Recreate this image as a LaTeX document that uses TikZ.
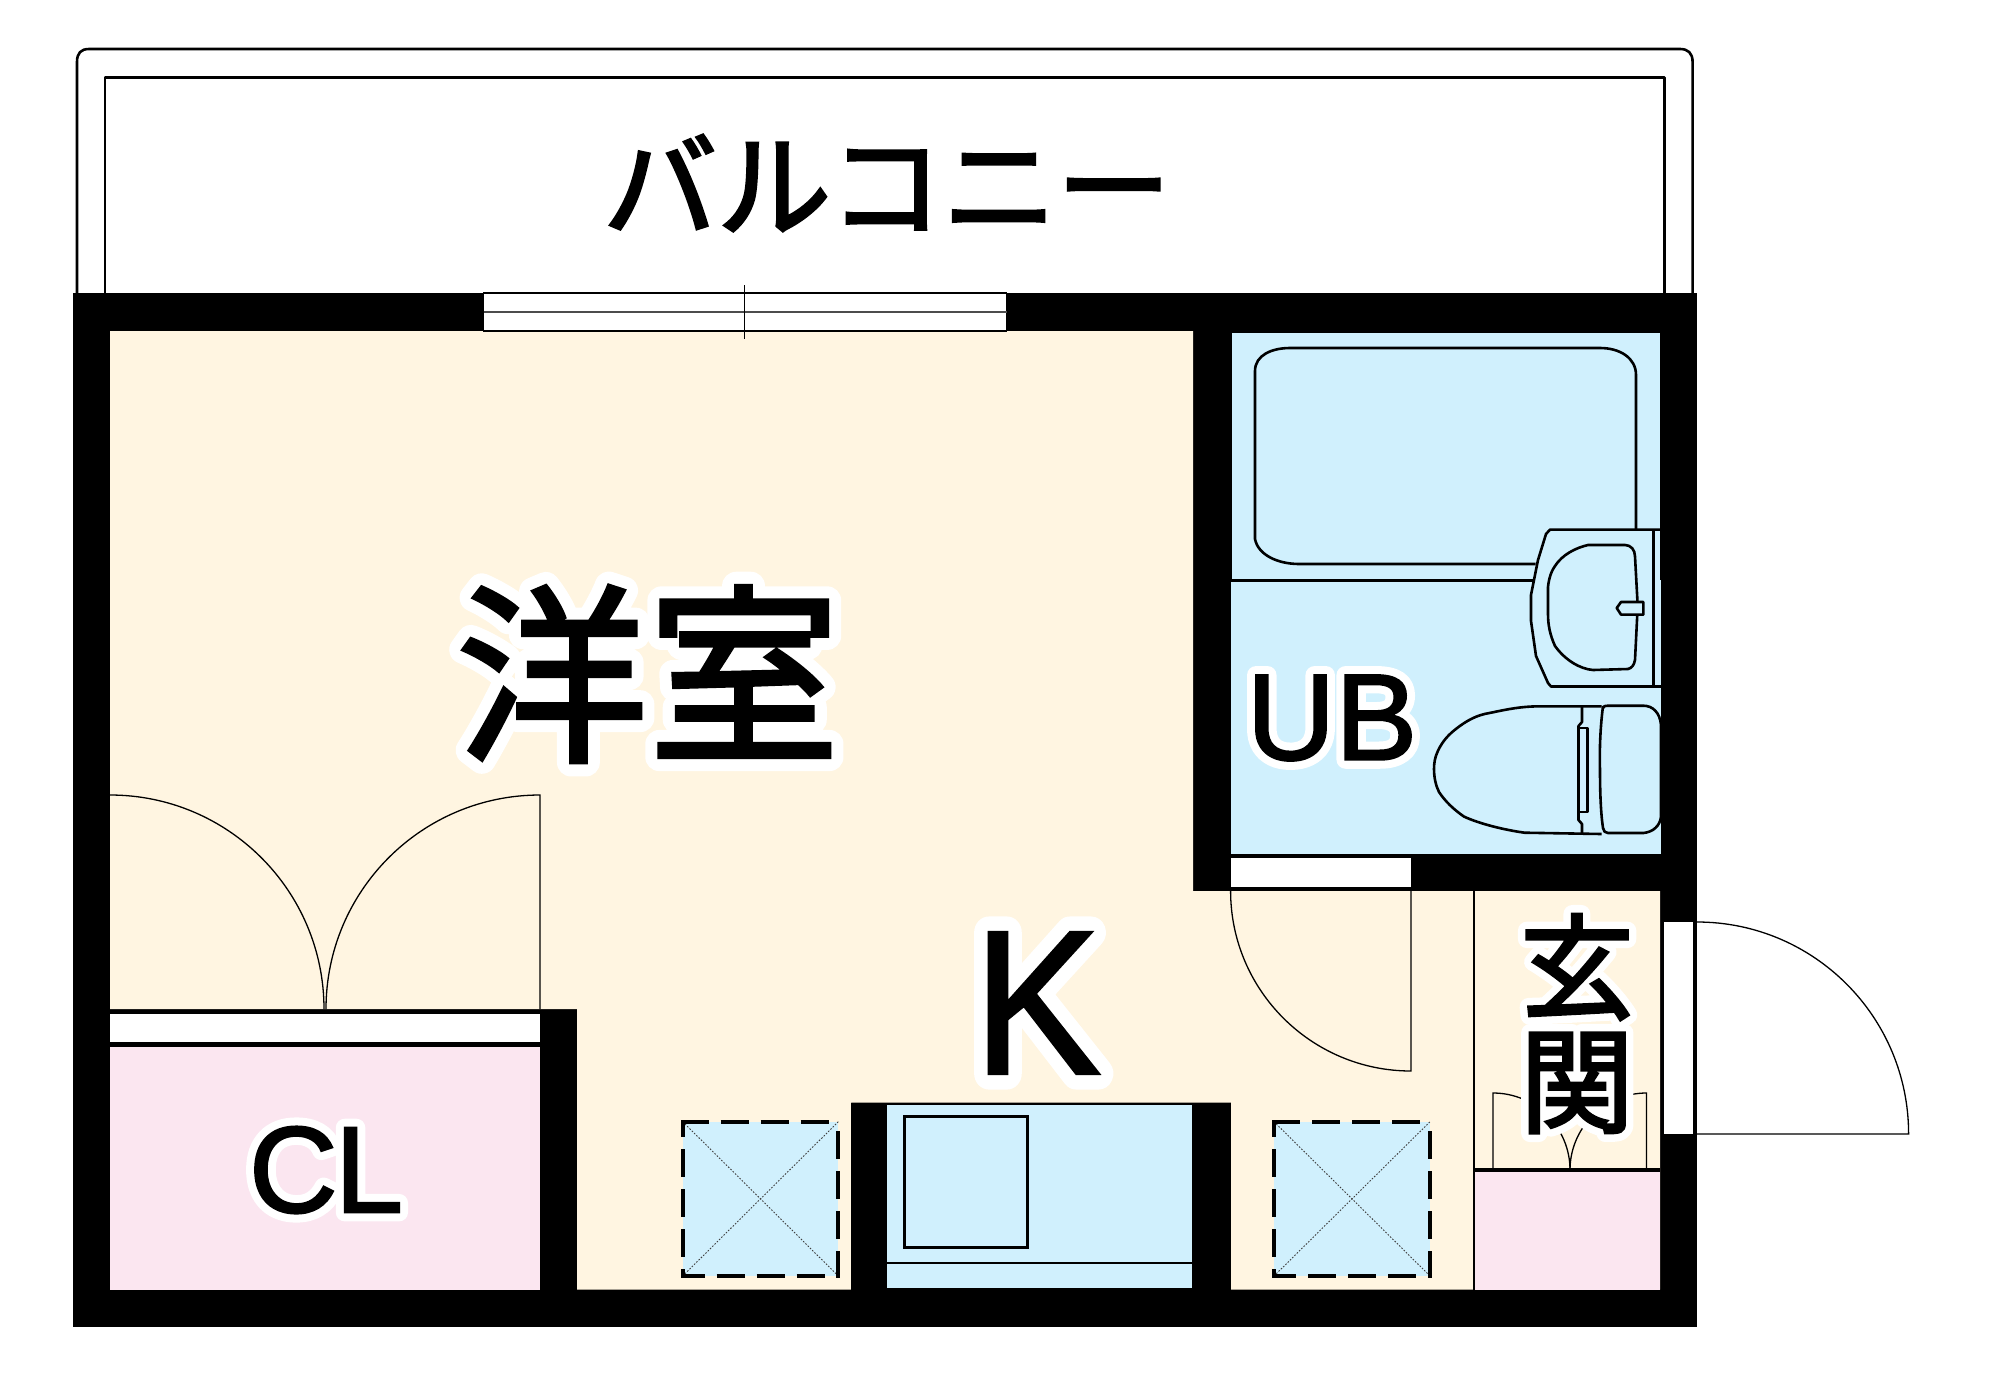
\documentclass[tikz,border=0pt]{standalone}
\usepackage{fontspec}
\setmainfont{Liberation Sans}
\newfontfamily\jpfont{Noto Sans CJK JP}
\definecolor{cream}{HTML}{FFF5E1}
\definecolor{aqua}{HTML}{D0F0FD}
\definecolor{rose}{HTML}{FBE6F0}
% white outline behind the text, then the text with a given extra black stroke
\newcommand{\hl}[3]{\leavevmode\rlap{\special{pdf:code 1 Tr #1 w 1 1 1 RG 1 J 1 j}#3\special{pdf:code 0 Tr}}\special{pdf:code 2 Tr #2 w 0 0 0 RG 0 J 0 j}#3\special{pdf:code 0 Tr}}
\newcommand{\bk}[2]{\special{pdf:code 2 Tr #1 w 0 0 0 RG 0 J 0 j}#2\special{pdf:code 0 Tr}}
\tikzset{
  fixture/.style={draw=black,line width=2.6pt,line join=round},
  hair/.style={draw=black,line width=1.3pt},
  cross/.style={draw=black!75,line width=.9pt,dash pattern=on 1.6pt off 1.6pt},
  dashside/.style={draw=black,line width=3.8pt},
  label/.style={inner sep=0pt,outer sep=0pt,transform shape},
}
\begin{document}
\begin{tikzpicture}[x=1pt,y=-1pt]
\useasboundingbox (0,0) rectangle (2000,1390);
\fill[white] (0,0) rectangle (2000,1390);
% balcony
\draw[fixture] (77,293) -- (77,62) .. controls (77,53) and (81,49) .. (89,49) -- (1680,49) .. controls (1688,49) and (1692.6,53) .. (1692.6,62) -- (1692.6,293);
\draw[fixture] (105,293) -- (105,77.5) -- (1664.5,77.5) -- (1664.5,293);
% walls
\fill[black] (72.5,293) rectangle (1697,1327);
% floors
\fill[cream] (110,331) -- (1193,331) -- (1193,891) -- (1660,891) -- (1660,1289.5) -- (1231,1289.5) -- (1231,1102.5) -- (851,1102.5) -- (851,1289.5) -- (577,1289.5) -- (577,1009) -- (110,1009) -- cycle;
\fill[rose] (110,1047) rectangle (540,1289.5);
\fill[rose] (1475,1170) rectangle (1660,1289.5);
\fill[aqua] (1232,332.5) rectangle (1659.5,580);
\fill[aqua] (1230.5,580) rectangle (1661,853.7);
\fill[black] (851,1102.5) rectangle (1231,1105);
\fill[black] (851,1102.5) rectangle (887,1289.5);
\fill[black] (1192,1102.5) rectangle (1231,1289.5);
\fill[aqua] (887,1105) rectangle (1192,1288);
% openings
\draw[fill=white,draw=black,line width=1.5pt] (483.7,293) rectangle (1006.6,331);
\draw[draw=black!70,line width=1.3pt] (483.7,312) -- (1006.6,312);
\draw[hair] (744.5,285) -- (744.5,339);
\fill[white] (110,1013.6) rectangle (540,1042);
\fill[white] (1230.6,858) rectangle (1411,886.7);
\fill[white] (1664,922) rectangle (1693,1134);
% doors
\draw[hair] (110,795) .. controls (228.2,795) and (324,890.8) .. (324,1009);
\draw[hair] (540,1009) -- (540,795) .. controls (421.8,795) and (326,890.8) .. (326,1009);
\draw[hair] (1230.6,891) .. controls (1230.6,990.4) and (1311.6,1071) .. (1411,1071) -- (1411,891);
\draw[hair] (1697,922) .. controls (1814,922) and (1908.6,1017) .. (1908.6,1134) -- (1697,1134);
\draw[hair] (1493,1170) -- (1493,1093) .. controls (1535.5,1093) and (1570,1127.5) .. (1570,1170);
\draw[hair] (1646.4,1170) -- (1646.4,1093) .. controls (1604.4,1093) and (1570,1128) .. (1570,1170);
% entry divisions
\fill[black] (1472.6,891) rectangle (1475.4,1289.5);
\fill[black] (1472.6,1168) rectangle (1660,1171.5);
% bath
\draw[fixture] (1231,580.5) -- (1533,580.5);
\draw[fixture] (1636,529) -- (1636,375) .. controls (1636,358) and (1620,348) .. (1600,348) -- (1290,348) .. controls (1272,348) and (1255,355) .. (1255,371) -- (1255,539) .. controls (1258,555) and (1278,564) .. (1299,564) -- (1535.7,564);
\draw[fixture] (1660,529.6) -- (1550,529.6) -- (1546,534) -- (1538,560) -- (1531,595) -- (1531,621) -- (1536,656) -- (1548,683) -- (1551,686.5) -- (1661,686.5);
\draw[fixture] (1653.5,529.6) -- (1653.5,686.5);
\draw[fixture] (1588,545) -- (1625,545) .. controls (1631,545) and (1635,550) .. (1635,556.4) -- (1637.7,606) -- (1635,660) .. controls (1634,665) and (1632,668) .. (1628,669) -- (1593,670) .. controls (1580,669) and (1565,660) .. (1555,646) .. controls (1550,635) and (1548,625) .. (1548,614) -- (1548,587) .. controls (1549,577) and (1552,570) .. (1555,566) .. controls (1562,555) and (1575,548) .. (1588,545) -- cycle;
\draw[fixture,fill=aqua] (1616.7,608) -- (1621,602) -- (1643.4,602) -- (1643.4,614.6) -- (1621,614.6) -- cycle;
% toilet
\draw[fixture] (1601.6,706.4) -- (1534.7,706.4) .. controls (1515,707) and (1500,711) .. (1484.5,714) .. controls (1472,717) and (1462,724) .. (1454,730.5) .. controls (1446,737) and (1441,744) .. (1437.6,751.6) .. controls (1435,757) and (1434,763) .. (1434,769) .. controls (1434,778) and (1436,786) .. (1439,792) .. controls (1445,801) and (1453,809) .. (1464,816.6) .. controls (1480,824) and (1505,830) .. (1524.6,832.7) -- (1601.6,834);
\draw[fixture] (1582,706.4) -- (1582,722) -- (1578.5,726) -- (1578.5,728);
\draw[fixture] (1578.5,728) rectangle (1587.5,812);
\draw[fixture] (1578.5,812) -- (1578.5,820) -- (1582,824) -- (1582,834);
\draw[fixture] (1603,706) .. controls (1600,730) and (1599.5,750) .. (1600,771) .. controls (1600,795) and (1601,815) .. (1603,828) .. controls (1603.5,831) and (1605,833) .. (1608,833) -- (1643.4,833) .. controls (1653,832) and (1660,826) .. (1661,816.6) -- (1661,725) .. controls (1660,713) and (1653,705.7) .. (1643.4,705.7) -- (1608,705.7) .. controls (1605,705.7) and (1603.5,706) .. (1603,708);
% kitchen
\draw[draw=black,line width=3pt] (904,1116) rectangle (1027.3,1247.7);
\draw[draw=black,line width=2.6pt] (887,1263) -- (1192,1263);
% shafts
\fill[aqua] (682.7,1121.7) rectangle (838.3,1276);
\fill[aqua] (1274,1121.7) rectangle (1430,1276);
\draw[cross] (682.7,1121.7) -- (838.3,1276);
\draw[cross] (682.7,1276) -- (838.3,1121.7);
\draw[cross] (1274,1121.7) -- (1430,1276);
\draw[cross] (1274,1276) -- (1430,1121.7);
\tikzset{tb/.style={dashside,dash pattern=on 28pt off 12pt,dash phase=2pt}, lr/.style={dashside,dash pattern=on 28pt off 12pt,dash phase=11pt},bt/.style={dashside,dash pattern=on 28pt off 12pt,dash phase=6pt},rl/.style={dashside,dash pattern=on 28pt off 12pt,dash phase=30pt}}
\foreach \xa/\xb in {682.7/838.3,1274/1430}{
  \draw[tb] (\xa,1121.7) -- (\xb,1121.7);
  \draw[bt] (\xa,1276) -- (\xb,1276);
  \draw[lr] (\xa,1120) -- (\xa,1278);
  \draw[rl] (\xb,1121) -- (\xb,1278);
}
% texts
\node[label,font=\jpfont\fontsize{114}{114}\selectfont] (balcony) at (887,183) {\bk{3}{バルコニー}};
\node[label,font=\jpfont\fontsize{192}{192}\selectfont] (room) at (648,674) {\hl{28}{4}{洋室}};
\node[label,font=\fontsize{205}{205}\selectfont,xscale=.93] (kitchen) at (1037,1003) {\hl{32}{3}{K}};
\node[label,font=\fontsize{123}{123}\selectfont] (ub) at (1332,718) {\hl{18}{2}{UB}};
\node[label,font=\fontsize{123}{123}\selectfont] (cl) at (326,1170) {\hl{18}{2}{C}\kern-3pt\hl{18}{2}{L}};
\node[label,font=\jpfont\fontsize{114}{114}\selectfont] (entryA) at (1577,967) {\hl{18}{3}{玄}};
\node[label,font=\jpfont\fontsize{114}{114}\selectfont] (entryB) at (1577,1083) {\hl{18}{3}{関}};
\end{tikzpicture}
\end{document}
